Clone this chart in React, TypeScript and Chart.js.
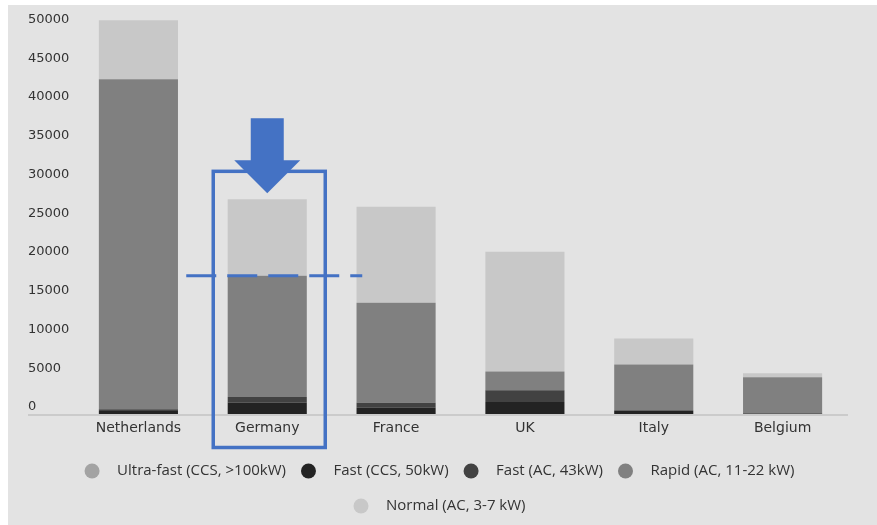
import React, { useEffect, useRef } from "react";
import { Chart, registerables } from "chart.js";

Chart.register(...registerables);

// Charging points per country, split by charger type (stacked bottom to top)
const countries = ["Netherlands", "Germany", "France", "UK", "Italy", "Belgium"];
const ultraFast = [0, 0, 0, 0, 0, 0];
const fastCcs = [400, 1500, 800, 1550, 400, 60];
const fastAc = [200, 700, 650, 1500, 100, 40];
const rapid = [42600, 15650, 12900, 2450, 5900, 4630];
const normal = [7600, 9850, 12400, 15450, 3350, 520];

const seriesNames = [
  "Ultra-fast (CCS, >100kW)",
  "Fast (CCS, 50kW)",
  "Fast (AC, 43kW)",
  "Rapid (AC, 11-22 kW)",
  "Normal (AC, 3-7 kW)",
];
const seriesColors = ["#a3a3a3", "#232323", "#424242", "#808080", "#c8c8c8"];
const yTickValues = [0, 5000, 10000, 15000, 20000, 25000, 30000, 35000, 40000, 45000, 50000];
const highlighted = "Germany";

const ACCENT = "#4472c4";
const TEXT = "#333333";
const BG = "#e3e3e3";

// Thin baseline running from the y labels to the right edge of the plot
const baselinePlugin = {
  id: "baseline",
  beforeDatasetsDraw(chart: any) {
    const { ctx, chartArea, scales } = chart;
    const y = scales.y.getPixelForValue(0) + 1;
    ctx.save();
    ctx.strokeStyle = "#cbcbcb";
    ctx.lineWidth = 2;
    ctx.beginPath();
    ctx.moveTo(scales.y.left, y);
    ctx.lineTo(chartArea.right + 1, y);
    ctx.stroke();
    ctx.restore();
  },
};

// Box, arrow and dashed reference line around the highlighted country
const calloutPlugin = {
  id: "callout",
  afterDatasetsDraw(chart: any) {
    const { ctx, chartArea, scales } = chart;
    const i = countries.indexOf(highlighted);
    if (i < 0) return;
    const cx = scales.x.getPixelForValue(i);
    const total = ultraFast[i] + fastCcs[i] + fastAc[i] + rapid[i] + normal[i];
    const rapidTop = ultraFast[i] + fastCcs[i] + fastAc[i] + rapid[i];
    const topY = scales.y.getPixelForValue(total);
    const refY = scales.y.getPixelForValue(rapidTop);

    ctx.save();
    // frame
    ctx.strokeStyle = ACCENT;
    ctx.lineWidth = 3.5;
    ctx.strokeRect(cx - 54, topY - 28, 112, chartArea.bottom + 33.5 - (topY - 28));

    // dashed reference line
    ctx.lineWidth = 3;
    ctx.setLineDash([30, 11]);
    ctx.beginPath();
    ctx.moveTo(cx - 81, refY);
    ctx.lineTo(cx + 95, refY);
    ctx.stroke();
    ctx.setLineDash([]);

    // arrow pointing down at the bar
    const tip = topY - 6;
    const headBase = tip - 33;
    const shaftTop = tip - 75;
    ctx.fillStyle = ACCENT;
    ctx.beginPath();
    ctx.moveTo(cx - 16.5, shaftTop);
    ctx.lineTo(cx + 16.5, shaftTop);
    ctx.lineTo(cx + 16.5, headBase);
    ctx.lineTo(cx + 33, headBase);
    ctx.lineTo(cx, tip);
    ctx.lineTo(cx - 33, headBase);
    ctx.lineTo(cx - 16.5, headBase);
    ctx.closePath();
    ctx.fill();
    ctx.restore();
  },
};

// Centred legend with round markers, wrapping onto a second row
const legendPlugin = {
  id: "dotLegend",
  afterDraw(chart: any) {
    const { ctx, chartArea, width } = chart;
    const r = 7.5;
    const textOffset = 25;
    const gap = 15;
    const maxRow = 760;
    ctx.save();
    ctx.font = '15px "Open Sans"';
    const items = chart.data.datasets.map((ds: any) => {
      const tw = ctx.measureText(ds.label).width;
      return { label: ds.label, color: ds.backgroundColor, w: r + textOffset + tw };
    });
    const rows: any[][] = [];
    let cur: any[] = [];
    let curW = 0;
    for (const it of items) {
      const add = cur.length ? gap + it.w : it.w;
      if (cur.length && curW + add > maxRow) {
        rows.push(cur);
        cur = [it];
        curW = it.w;
      } else {
        cur.push(it);
        curW += add;
      }
    }
    if (cur.length) rows.push(cur);

    rows.forEach((row, ri) => {
      const rowW = row.reduce((s, it, k) => s + it.w + (k ? gap : 0), 0);
      let x = width / 2 - 3 - rowW / 2;
      const y = chartArea.bottom + 57 + ri * 35;
      row.forEach((it) => {
        ctx.fillStyle = it.color;
        ctx.beginPath();
        ctx.arc(x + r, y, r, 0, Math.PI * 2);
        ctx.fill();
        ctx.fillStyle = TEXT;
        ctx.textBaseline = "middle";
        ctx.textAlign = "left";
        ctx.fillText(it.label, x + r + textOffset, y);
        x += it.w + gap;
      });
    });
    ctx.restore();
  },
};

export default function App() {
  const canvasRef = useRef<HTMLCanvasElement | null>(null);

  useEffect(() => {
    if (!canvasRef.current) return;
    const seriesData = [ultraFast, fastCcs, fastAc, rapid, normal];
    const chart = new Chart(canvasRef.current, {
      type: "bar",
      data: {
        labels: countries,
        datasets: seriesNames.map((name, k) => ({
          label: name,
          data: seriesData[k],
          backgroundColor: seriesColors[k],
          borderWidth: 0,
          barPercentage: 0.614,
          categoryPercentage: 1,
        })),
      },
      options: {
        responsive: false,
        animation: false,
        maintainAspectRatio: false,
        layout: { padding: { left: 20, right: 30, top: 6, bottom: 87 } },
        plugins: {
          legend: { display: false },
          tooltip: { enabled: false },
        },
        scales: {
          x: {
            stacked: true,
            grid: { display: false, drawTicks: false },
            border: { display: false },
            ticks: {
              color: TEXT,
              padding: 6,
              font: { family: '"DejaVu Sans"', size: 14 },
            },
            afterFit(scale: any) {
              scale.height = 24;
              scale.paddingLeft = 0;
              scale.paddingRight = 0;
            },
          },
          y: {
            stacked: true,
            min: 0,
            max: 52000,
            grid: { display: false, drawTicks: false },
            border: { display: false },
            ticks: {
              color: TEXT,
              crossAlign: "far",
              labelOffset: -7,
              padding: 4,
              font: { family: '"DejaVu Sans"', size: 13 },
              callback: (v: any) => String(v),
            },
            afterBuildTicks(scale: any) {
              scale.ticks = yTickValues.map((v) => ({ value: v }));
            },
            afterFit(scale: any) {
              scale.width = 46;
              scale.paddingTop = 0;
              scale.paddingBottom = 0;
            },
          },
        },
      },
      plugins: [baselinePlugin, calloutPlugin, legendPlugin],
    });
    return () => chart.destroy();
  }, []);

  return (
    <div style={{ position: "absolute", left: 8, top: 5, width: 869, height: 520, background: BG }}>
      <canvas ref={canvasRef} width={869} height={520} style={{ display: "block" }} />
    </div>
  );
}
